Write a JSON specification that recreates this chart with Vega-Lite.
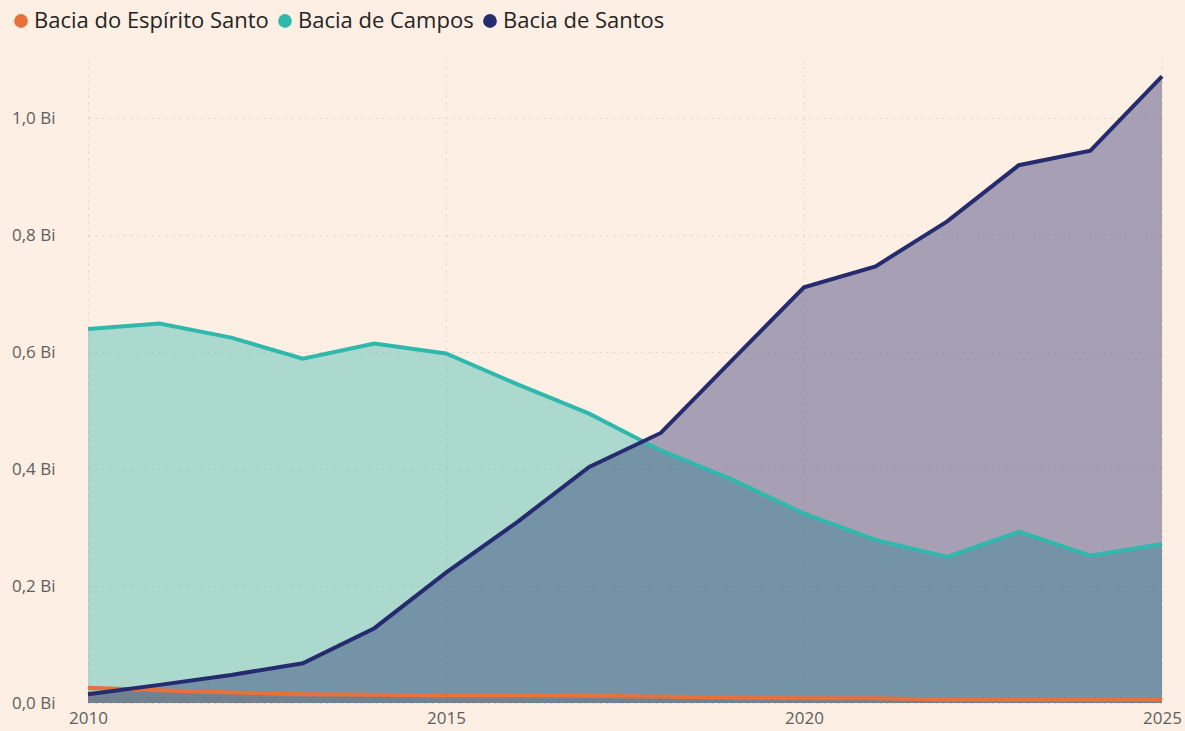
{
  "$schema": "https://vega.github.io/schema/vega-lite/v6.json",
  "width": 1074,
  "height": 643,
  "autosize": "none",
  "padding": {"left": 88, "top": 60, "right": 23, "bottom": 28},
  "background": "#FDEFE4",
  "config": {
    "view": {"stroke": null},
    "font": "Open Sans"
  },
  "data": {
    "values": [
      {"ano": 2010, "bacia": "Bacia do Espírito Santo", "valor": 0.026},
      {"ano": 2011, "bacia": "Bacia do Espírito Santo", "valor": 0.022},
      {"ano": 2012, "bacia": "Bacia do Espírito Santo", "valor": 0.018},
      {"ano": 2013, "bacia": "Bacia do Espírito Santo", "valor": 0.015},
      {"ano": 2014, "bacia": "Bacia do Espírito Santo", "valor": 0.014},
      {"ano": 2015, "bacia": "Bacia do Espírito Santo", "valor": 0.013},
      {"ano": 2016, "bacia": "Bacia do Espírito Santo", "valor": 0.013},
      {"ano": 2017, "bacia": "Bacia do Espírito Santo", "valor": 0.012},
      {"ano": 2018, "bacia": "Bacia do Espírito Santo", "valor": 0.011},
      {"ano": 2019, "bacia": "Bacia do Espírito Santo", "valor": 0.009},
      {"ano": 2020, "bacia": "Bacia do Espírito Santo", "valor": 0.008},
      {"ano": 2021, "bacia": "Bacia do Espírito Santo", "valor": 0.008},
      {"ano": 2022, "bacia": "Bacia do Espírito Santo", "valor": 0.006},
      {"ano": 2023, "bacia": "Bacia do Espírito Santo", "valor": 0.006},
      {"ano": 2024, "bacia": "Bacia do Espírito Santo", "valor": 0.006},
      {"ano": 2025, "bacia": "Bacia do Espírito Santo", "valor": 0.006},
      {"ano": 2010, "bacia": "Bacia de Campos", "valor": 0.640},
      {"ano": 2011, "bacia": "Bacia de Campos", "valor": 0.649},
      {"ano": 2012, "bacia": "Bacia de Campos", "valor": 0.625},
      {"ano": 2013, "bacia": "Bacia de Campos", "valor": 0.589},
      {"ano": 2014, "bacia": "Bacia de Campos", "valor": 0.615},
      {"ano": 2015, "bacia": "Bacia de Campos", "valor": 0.598},
      {"ano": 2016, "bacia": "Bacia de Campos", "valor": 0.545},
      {"ano": 2017, "bacia": "Bacia de Campos", "valor": 0.495},
      {"ano": 2018, "bacia": "Bacia de Campos", "valor": 0.432},
      {"ano": 2019, "bacia": "Bacia de Campos", "valor": 0.382},
      {"ano": 2020, "bacia": "Bacia de Campos", "valor": 0.324},
      {"ano": 2021, "bacia": "Bacia de Campos", "valor": 0.279},
      {"ano": 2022, "bacia": "Bacia de Campos", "valor": 0.250},
      {"ano": 2023, "bacia": "Bacia de Campos", "valor": 0.293},
      {"ano": 2024, "bacia": "Bacia de Campos", "valor": 0.252},
      {"ano": 2025, "bacia": "Bacia de Campos", "valor": 0.272},
      {"ano": 2010, "bacia": "Bacia de Santos", "valor": 0.015},
      {"ano": 2011, "bacia": "Bacia de Santos", "valor": 0.031},
      {"ano": 2012, "bacia": "Bacia de Santos", "valor": 0.048},
      {"ano": 2013, "bacia": "Bacia de Santos", "valor": 0.068},
      {"ano": 2014, "bacia": "Bacia de Santos", "valor": 0.128},
      {"ano": 2015, "bacia": "Bacia de Santos", "valor": 0.223},
      {"ano": 2016, "bacia": "Bacia de Santos", "valor": 0.310},
      {"ano": 2017, "bacia": "Bacia de Santos", "valor": 0.404},
      {"ano": 2018, "bacia": "Bacia de Santos", "valor": 0.462},
      {"ano": 2019, "bacia": "Bacia de Santos", "valor": 0.587},
      {"ano": 2020, "bacia": "Bacia de Santos", "valor": 0.711},
      {"ano": 2021, "bacia": "Bacia de Santos", "valor": 0.747},
      {"ano": 2022, "bacia": "Bacia de Santos", "valor": 0.824},
      {"ano": 2023, "bacia": "Bacia de Santos", "valor": 0.920},
      {"ano": 2024, "bacia": "Bacia de Santos", "valor": 0.945},
      {"ano": 2025, "bacia": "Bacia de Santos", "valor": 1.072}
    ]
  },
  "encoding": {
    "x": {
      "field": "ano",
      "type": "quantitative",
      "scale": {"domain": [2010, 2025], "nice": false, "zero": false},
      "axis": {
        "title": null,
        "values": [2010, 2015, 2020, 2025],
        "format": "d",
        "domain": false,
        "ticks": false,
        "labelFlush": false,
        "labelFontSize": 17,
        "labelColor": "#605E5C",
        "labelPadding": 7,
        "grid": true,
        "gridColor": "#DDD3CB",
        "gridDash": [2, 5],
        "gridWidth": 1
      }
    },
    "y": {
      "field": "valor",
      "type": "quantitative",
      "scale": {"domain": [0, 1.1], "nice": false},
      "axis": {
        "title": null,
        "values": [0, 0.2, 0.4, 0.6, 0.8, 1.0],
        "labelExpr": "replace(format(datum.value, '.1f'), '.', ',') + ' Bi'",
        "domain": false,
        "ticks": false,
        "labelFontSize": 17,
        "labelColor": "#605E5C",
        "labelPadding": 33,
        "grid": true,
        "gridColor": "#DDD3CB",
        "gridDash": [2, 5],
        "gridWidth": 1
      }
    },
    "color": {
      "field": "bacia",
      "type": "nominal",
      "scale": {
        "domain": ["Bacia do Espírito Santo", "Bacia de Campos", "Bacia de Santos"],
        "range": ["#E8703A", "#30B8AD", "#252B6E"]
      },
      "legend": {
        "title": null,
        "orient": "none",
        "direction": "horizontal",
        "legendX": -78,
        "legendY": -50,
        "symbolType": "circle",
        "symbolSize": 190,
        "symbolOpacity": 1,
        "symbolStrokeWidth": 0,
        "labelFontSize": 22,
        "labelLimit": 0,
        "labelColor": "#252423",
        "labelOffset": 2,
        "columnPadding": 5
      }
    }
  },
  "layer": [
    {
      "mark": {"type": "area", "opacity": 0.4},
      "encoding": {"y": {"field": "valor", "type": "quantitative", "stack": null}}
    },
    {
      "mark": {"type": "line", "strokeWidth": 4}
    }
  ]
}
